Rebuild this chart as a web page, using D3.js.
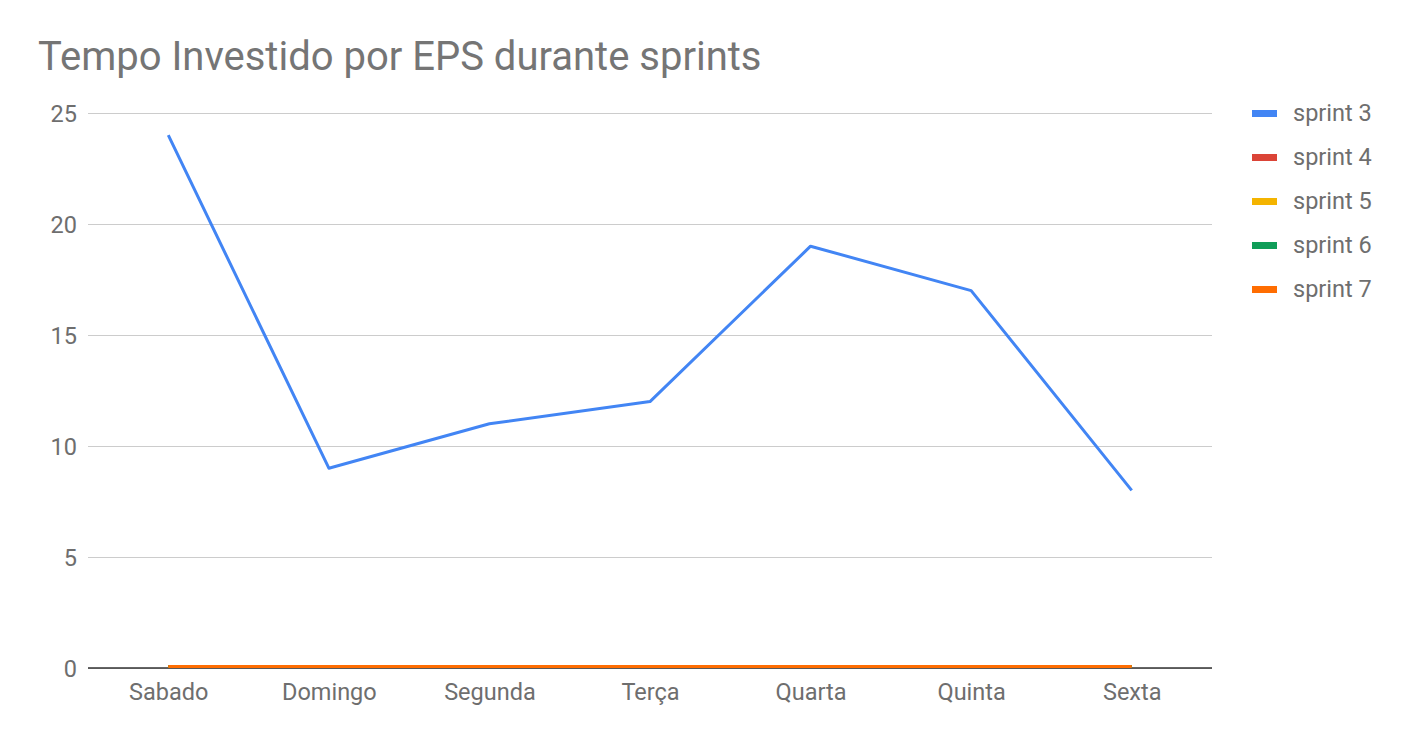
<!DOCTYPE html>
<html><head><meta charset="utf-8">
<script src="https://cdn.jsdelivr.net/npm/d3@7"></script>
<style>body{margin:0;background:#fff;font-family:Roboto,"Noto Sans",sans-serif;}</style>
</head><body>
<svg id="c" width="1410" height="742"></svg>
<script>
const categories = ["Sabado","Domingo","Segunda","Terça","Quarta","Quinta","Sexta"];
const seriesNames = ["sprint 3","sprint 4","sprint 5","sprint 6","sprint 7"];
const sprint3 = [24,9,11,12,19,17,8];
const sprint4 = [0,0,0,0,0,0,0];
const sprint5 = [0,0,0,0,0,0,0];
const sprint6 = [0,0,0,0,0,0,0];
const sprint7 = [0,0,0,0,0,0,0];
const yTicks = [0,5,10,15,20,25];
const colors = ["#4285F4","#DB4437","#F4B400","#0F9D58","#FF6D01"];
const seriesData = [sprint3,sprint4,sprint5,sprint6,sprint7];

(function(){
const svg = d3.select("#c");
const pl=88, pr=1212, pt=113, pb=668;
const x = d3.scalePoint().domain(categories).range([pl,pr]).padding(0.5);
const y = d3.scaleLinear().domain([0,25]).range([pb,pt]);

svg.append("text").attr("x",38).attr("y",70).attr("font-size",40).attr("fill","#757575").text("Tempo Investido por EPS durante sprints");

const yAxis = svg.append("g").attr("transform",`translate(${pl},0)`)
  .call(d3.axisLeft(y).tickValues(yTicks).tickSize(-(pr-pl)).tickFormat(d3.format("d")));
yAxis.select(".domain").remove();
yAxis.selectAll(".tick line").attr("stroke","#cccccc").attr("stroke-width",1);
yAxis.selectAll(".tick text").attr("x",-11).attr("dy","0.34em").attr("font-size",23.5).attr("fill","#6e6e6e").attr("font-family","Roboto");

const xAxis = svg.append("g").attr("transform",`translate(0,${pb})`)
  .call(d3.axisBottom(x).tickSize(0));
xAxis.select(".domain").remove();
xAxis.selectAll(".tick text").attr("dy",0).attr("y",32).attr("font-size",23.5).attr("fill","#6e6e6e").attr("font-family","Roboto");

svg.append("line").attr("x1",pl).attr("x2",pr).attr("y1",y(0)).attr("y2",y(0)).attr("stroke","#333").attr("stroke-width",1.5);

const line = d3.line().x((d,i)=>x(categories[i])).y(d=>y(d));
seriesData.forEach((s,k)=>{
  svg.append("path").datum(s).attr("d",line).attr("fill","none")
    .attr("stroke",colors[k]).attr("stroke-width",3).attr("stroke-linejoin","round")
    .attr("transform", k>0 ? "translate(0,-1.5)" : null);
});

const lg = svg.append("g");
seriesNames.forEach((n,k)=>{
  const yy = 113 + k*44;
  lg.append("rect").attr("x",1252).attr("y",yy-3).attr("width",25).attr("height",7).attr("fill",colors[k]);
  lg.append("text").attr("x",1293).attr("y",yy+8).attr("font-size",23.5).attr("fill","#6e6e6e").text(n);
});
})();
</script>
</body></html>
